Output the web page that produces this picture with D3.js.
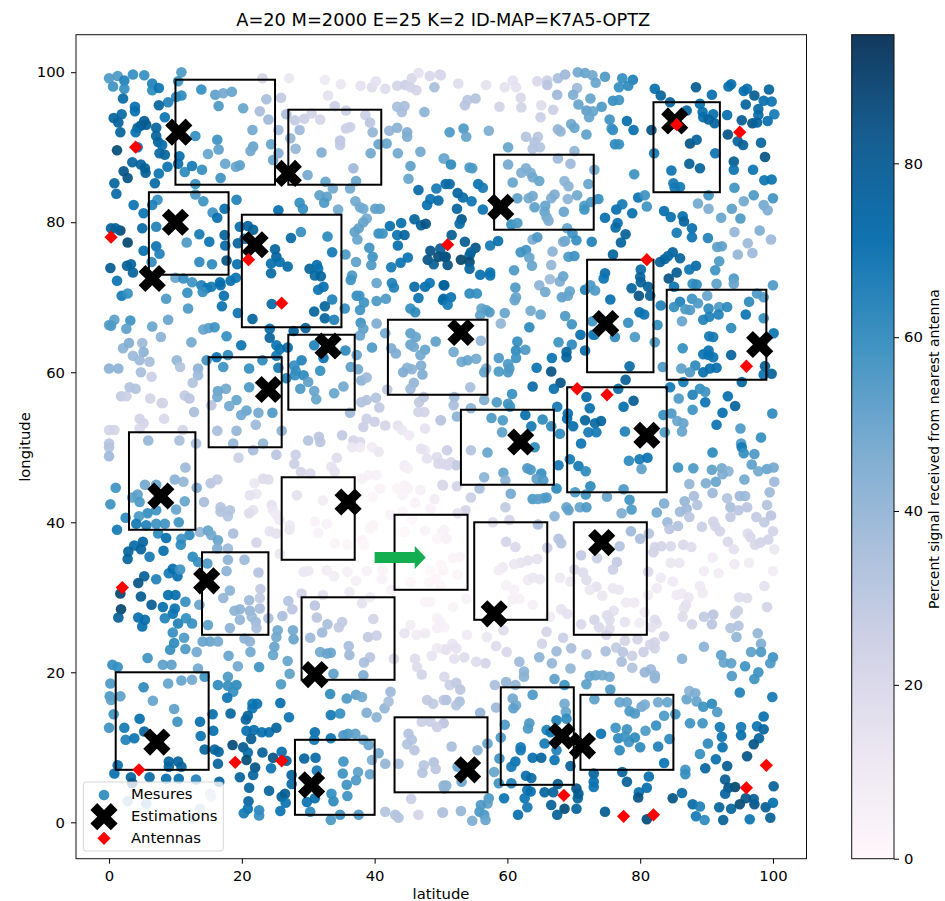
<!DOCTYPE html>
<html><head><meta charset="utf-8">
<script src="https://cdn.jsdelivr.net/npm/d3@7"></script>
<style>html,body{margin:0;padding:0;background:#fff}svg{display:block}text{font-family:"DejaVu Sans",sans-serif;fill:#000}</style>
</head><body><div id="chart"></div>
<script>
const chartTitle="A=20 M=2000 E=25 K=2 ID-MAP=K7A5-OPTZ";
const xTicks=[0,20,40,60,80,100], yTicks=[0,20,40,60,80,100], cbTicks=[0,20,40,60,80];
const signalMax=94.8;
const pubuStops=["#fff7fb","#ece7f2","#d0d1e6","#a6bddb","#74a9cf","#3690c0","#0570b0","#045a8d","#023858"];
const colorbarStops=["#fff7fb","#ece7f2","#d3d3e7","#abc0dc","#7bacd1","#3f93c2","#1073b1","#165e91","#123a5e"];
// measures as [latitude, longitude, signal]
const measuresNW=[[0,99.2,55],[1.3,99.5,55],[2.3,98.9,65],[3.6,99.7,60],[5.3,99.6,60],[6.5,98.5,65],[.6,98.1,58],[2.3,97.8,60],[6.5,97.6,62],[7.5,97.9,70],[2.1,96.5,75],[10.9,100,55],[10.4,98.8,58],[10.9,96.9,62],[10.1,96.7,62],[8.9,96,65],[7.5,95.6,78],[3.9,95.4,72],[3.9,94.8,72],[8.4,94,70],[1.9,94.4,75],[.7,93.9,78],[1.4,93.3,78],[5.3,93.5,82],[4.8,92.9,80],[5.6,93,82],[4.3,92.6,78],[7.1,92.6,78],[1.7,92,78],[4,92,72],[7.1,91.5,78],[7.4,90.7,78],[8,90.3,72],[1.2,89.6,88],[4.3,90,72],[7.6,89.2,75],[8.4,89,78],[10.6,88.8,72],[13,91.5,60],[3.5,88,78],[4.8,87.7,78],[5.4,87.2,80],[5.5,86.6,80],[10.4,87.8,72],[2.2,86.8,85],[2.8,85.9,85],[7.5,86.5,70],[8.8,87.4,70],[11.4,86.7,62],[12.5,87.5,68],[14,87,60],[.8,85.2,78],[6.9,85.2,75],[1.1,83.8,75],[13,85.1,58],
[13.9,97.7,60],[16,97,52],[17.2,97.2,48],[18.5,97.4,50],[16.5,95.5,55],[20.2,95.2,50],[23.7,96.4,35],[22.7,94.8,35],[24,93.7,38],[21.6,92.3,48],[16.3,91,58],[16.5,89.7,52],[14.9,89.1,50],[21.7,90.1,50],[21.3,89.5,48],[24.4,90.4,50],[17.5,87.8,50],[19.1,87.4,50],[19.7,87.6,52],[16.8,85.9,58],[24.7,88.3,50],[23.1,99.2,22],[25.9,96.6,28],[25.5,92.3,38],[25.5,89.2,45],[27.3,91.2,40],[28.1,89.8,40],[27.1,99.2,12],[32.5,99,10],[34.9,98.4,12],[33,96.9,15],[37.9,98.2,15],[39.6,98,18],[40.2,98.8,15],[41.6,97.8,18],[43.4,98.2,22],[44.6,98.3,25],[45.6,99.2,20],[46.6,99.9,15],[46.3,97.6,22],[48.3,99.5,20],[49.8,99.7,20],[49,98,35],[45.4,98,22],
[26.7,94.4,35],[28,93.6,28],[29.4,93.8,25],[30.5,94.5,22],[31.8,93.7,22],[34,95.5,25],[35.7,94.9,25],[38.6,94.3,25],[39.3,93.3,30],[28.7,92.3,38],[39.7,92,40],[34.8,90.9,30],[36.3,92.7,25],[35.7,92.5,25],[34.8,90.3,28],[32,89.3,45],[39.4,89.2,48],[29.9,86.3,48],[36.8,87.2,38],[32.6,85.4,50],[37.2,85.5,50],[40.6,90.4,50],[41.8,90.5,50],[43.5,89.2,48],[46.9,89.4,48],[45.4,87.5,52],[45.1,85.8,50],[50.4,88.5,50],[42.2,92.2,40],[43.4,92.6,42],[44.9,92,45],[44.9,91.4,45],[43.4,95.4,35],[44.5,95.5,35],[44.1,94.7,35],[47.5,94.7,42],
[33.7,84.5,48],[36.3,84.5,48],[31.7,83.6,52],[32.8,83.4,52],[32.4,82.6,55],[28.7,82.6,60],[29.2,81.8,60],[34.5,81.7,48],[37.1,82.8,48],[37.8,82,48],[38.3,81.8,48],[40.1,81.8,52],[40.8,81.8,52],[38.8,80.5,48],[38.3,80,50],[37.6,79.2,52],[37,78.7,52],[37.4,77.7,50],[40.6,78.5,60],[41.2,78.5,58],[25.5,81.6,72],[19.2,83,65],[13,83.7,55],[14.2,82.8,58],[7.3,83,60],[6.5,82.3,65],[3.7,82.3,70],[5.2,81.2,70],[15.6,81.3,58],[16.3,80.6,72],[17.4,81.8,72],[46.6,84.3,75],[49.3,84.5,68],[49.6,82.9,75],[48.4,83.1,70],[47.9,82.3,72],[50.7,85.1,75],
[5,79.2,75],[7.1,79.4,65],[.3,79.2,78],[1.7,78.9,88],[.96,79.2,80],[2.8,77.3,90],[13.6,78.4,68],[15.1,77.4,70],[11.7,77.3,55],[7.1,76.8,70],[5.2,76.2,72],[7.6,75.8,65],[17.4,78.3,78],[17.5,76.9,75],[17.7,74.9,85],[13.6,74.7,62],[15.5,74.4,62],[19.7,79.4,72],[20.9,79.5,78],[21.7,79,80],[19.4,77.2,78],[20.4,77.8,75],[25,76.4,78],[25.2,75.4,78],[27.4,77.9,75],[28.9,78.7,60],[32.9,78.1,62],[33.6,76,68],[35.6,75.7,55],[19.3,74.4,72],[24.4,74.5,72],[25.7,74.7,72],[26.9,74.1,75],[24.4,73.2,75],[30.2,73.8,78],[31.3,74.3,72],[31.5,73.8,70],[31,72.9,75],[31.9,72.8,78],[32.3,71.4,72],[31.5,71,70],[33.6,69.7,65],[32.5,68.8,78],[30.9,68.1,78],[32.5,67.2,78],[33.9,67,65],[35.5,68.5,60],[24.5,69.1,75],[21.6,67.1,78],
[.2,73.9,82],[2.7,74.2,80],[3.3,74.4,78],[3.6,73.3,78],[6.4,74.7,62],[1.2,72.2,70],[1.9,70.2,68],[2.8,70.5,60],[8.6,69.8,55],[10,72.6,50],[11.2,72.5,60],[12.5,72,58],[13.9,71.6,65],[14.7,71.2,68],[14.1,70.7,60],[15.4,71.4,68],[16.7,72,72],[16.8,71.6,72],[18.3,72.2,72],[19.1,72.6,70],[11.8,70.6,60],[17.3,70.2,72],[17,68.8,70],[11.9,68.5,55],[19.4,67.9,70],
[37.3,70.2,60],[37.7,70.2,58],[38.4,69.3,58],[37.8,68.3,58],[40.3,69.5,55],[41.7,69.8,55],[45.4,68.5,60],[46.1,68,62],[46.6,69.9,70],[40.3,71.9,50],[42.6,71.9,65],[42.9,71.3,65],[46,71.4,75],[47.6,71.4,72],[48.3,71.9,70],[50.4,71.6,78],[50.4,69.8,75],[36.6,72.9,55],[36.4,72.3,58],[39.2,76.6,58],[39.7,75.4,58],[39.5,74.3,55],[37.2,74.7,52],[42.5,74,68],[43.9,74.6,70],[45,75.3,70],
[42.3,79.5,72],[44,79.9,72],[46,80.4,78],[47,79.6,80],[47.7,79.8,85],[43.4,78.3,70],[44.5,78.3,78],[43.5,76.9,72],[48.4,76.2,85],[49.9,76.5,82],[48,75,85],[48.9,74.4,80],[49.6,75.4,88],[50.7,75.4,88],
[37.9,66.6,58],[38.3,65.8,52],[37.8,64.9,50],[40.3,66.5,45],[41.6,65.2,48],[39.6,63.3,55],[.8,67,52],[0,66.3,52],[.3,66.2,55],[3.2,66.9,58],[2.6,65.8,52],[6.5,66.1,50],[8.9,67,50],[7.8,64.7,42],[12.4,64,48],[14.2,65.7,50],[15,65.9,52],[15.9,66,58],[17.7,64.8,60],[19.9,63.6,70],[24.2,65.8,75],[24.2,64.6,78],[27.8,65.5,80],[29.6,65.9,80],
[25.2,63.6,70],[25.7,63.1,70],[26.9,63.3,75],[30.9,63.6,65],[35.6,62.9,62],[25.2,62.2,68],[25.5,60.6,68],[29,61.6,65],[27.9,60.9,60],[28.1,60.2,60],[28,59.6,60],[29.3,59.6,62],[26.7,59.2,65],[31.8,60.2,60],[32.3,61.9,70],[37.3,62.3,50],[36.4,60.7,52],[37.5,60.4,48],[28.8,57.8,55],[30,58.7,52],[30.9,57.5,50],[31.2,56.4,50],[33.9,57.2,50],[35.3,58.1,48],[36.3,54.6,38],[38,58.9,42],[38.8,59.3,38],[41.9,57.7,30],[40.2,56.6,32],[38.8,56.3,32],[38,56,32],[40.7,55.3,28],
[2.1,63.2,42],[3,63.9,45],[5,63.9,38],[5.2,62.7,42],[3.6,62.2,38],[4.6,61.6,38],[6.1,61.4,35],[10.2,61.6,40],[10.7,60.7,32],[0,60.5,42],[1.4,60.5,42],[4.8,60,35],[6.4,59.4,25],[14.7,61.6,58],[16.2,62,70],[17.9,62.3,62],[17.2,60.7,58],[21.1,60.5,60],[23.1,61.6,62],[13.4,60.5,42],[13.4,59.6,38],[12.6,58.6,32],[15.4,55.6,30],[17.6,57.8,48],[16.4,57.5,50],[16.3,56.7,48],[19.2,56.3,50],[21.1,58,55],[20.7,54.9,50],[19.9,54.3,48],[18.1,55.5,48],[22.5,54.6,48],[24.6,54.6,55],
[1.8,56.8,28],[2.6,56.8,25],[3.1,58,32],[4,57.8,32],[6.2,56.5,22],[8.1,55.9,22],[7.9,55.9,22],[11.4,56.9,28],[12.1,56.5,30],[12.8,54.7,35],[8.3,53.8,20],[4.6,53.8,22],[5.2,53.2,22],[4.6,52.5,20],[0,52.3,22],[.8,52.3,22],[11.1,52.3,22],[16.3,52.2,35],[19.2,52.2,40],[22.1,53,38],[26,52.2,42],[5.9,50.9,40],[0,50.5,30],[10.6,50.9,35],[13.1,50.5,35],[18.7,50.5,40],[23.2,50.5,40],[30,50.9,32],[31.6,51.4,30],[31.8,50.7,30],[35.1,51.6,28],[38.3,52.7,25],[38.8,53.8,25],[40,53.4,25],[41.6,52.9,22],[43.5,52.9,15],[44.1,52.3,12],[45.2,51.6,10],[47.6,52.5,15],[49.9,53.6,25],[46.6,54.7,22],[47.5,54.7,22],[46.7,56,28],[47.4,56.7,30],[36.8,50.9,22],[37.8,50.7,20],
[45.4,65.2,52],[46.2,64.7,50],[45.4,63.7,50],[45.9,63.4,48],[49.2,64.1,52],[47.6,63,50],[46.9,62.3,48],[42.5,63.2,45],[43.2,62.5,45],[47,60.9,45],[44.9,60.6,42],[45.6,60.4,42],[44.3,60,45],[47.2,59.7,45],[45.9,58.6,40],[45.4,57.8,38]];
const measuresNE=[[50,99.6,20],[52.6,98.5,18],[56.8,98.3,15],[59.6,98,15],[60.8,98.9,15],[61.3,98,15],[64.5,98.8,20],[66,98.9,25],[66,98.3,30],[67.6,99.2,35],[68.7,99.7,38],[70.6,100,48],[71.7,99.9,50],[72.8,99.6,48],[73.3,98.6,50],[74.7,99.4,55],[77.3,99.2,60],[78.9,99,65],[76.8,98,60],[78.2,98.2,62],[70.5,97.9,38],[67.5,97,38],[69.9,97,45],[72.5,96.5,50],[70.7,95.7,50],[74.2,95.4,55],[75.9,96.2,60],[76.8,96.3,58],[71.9,94.9,52],[72.9,94.8,50],[72.3,94,50],
[55.2,96.5,32],[54,96.3,30],[53.6,95.6,30],[62,96.6,20],[58.8,95.4,22],[62.1,95.3,22],[65.1,95.6,18],[66.9,95,25],[65,94,25],[51.3,92,55],[53.4,92.5,55],[53.8,91.4,50],[57.2,92.2,45],[62.8,91.4,32],[64.6,91.4,30],[64.1,90.7,32],[63.8,89.8,32],[64.9,90,32],[67.6,92.4,40],[68,92.1,40],[69.6,93.1,48],[70.1,92.6,50],[71.9,91.7,52],[75.4,93.7,58],[75.7,92.5,58],[75.9,92.3,60],[78,93.5,72],[79,92.3,72],[76.2,90.4,62],[76.8,90.4,60],[60.1,90,50],[70.1,89.5,40],
[82.2,97.8,72],[83.1,96.9,78],[88.4,98,82],[90.8,97,72],[84.5,96,78],[89,95.8,72],[93.7,98.4,72],[93.3,98.1,72],[95.6,97.5,72],[96.1,97.8,72],[97.2,96.9,82],[99.4,97.7,78],[98.6,96.2,72],[99.8,96.1,70],[95.9,95.7,78],[97.8,95.1,75],[97.8,94.3,75],[100.2,94.4,68],[93.1,94.3,72],[95.3,93.6,82],[96.9,93.2,85],[97.6,93.3,78],[99.2,93.5,72],[87,94.9,78],[89.4,94.7,72],[89.5,94,72],[91,94.4,72],[90.3,93.7,78],[91.2,93.2,78],[81.7,92.3,85],[93.2,91.7,85],[87.5,90.5,85],[88.5,91,78],[94.7,90.8,78],[95.5,90.3,80],[98.2,90.6,78],[82.1,89.2,68],[91.3,89.2,70],[98.8,88.7,85],[94.1,88.1,82],[94.1,87,70],[97,87,70],[87.4,87.8,80],[89,87.2,78],[84.7,86.9,70],[98.7,85.6,70],[99.8,85.7,70],[85,85.2,68],[86,84.7,68],[85.2,84.6,68],[94.2,84.6,58],[90.3,83.6,58],[97.1,83.6,55],[95.6,82.8,48],[100,83.2,58],[88.7,82.5,48],[90.3,81.8,45],[93.8,81.8,52],[98.6,82.3,48],[99.2,81.6,45],[92.2,80.6,50],[95.1,80.5,55],[94.2,78.7,40],[98,78.9,45],[99.7,77.7,38],[96.2,77.2,38],[96.9,75.9,38],[94.7,75.7,40],[91.6,76.7,52],[92.3,76.8,52],[91.9,74.8,55],
[50.5,88.5,48],[51.5,87.7,62],[54.3,87.3,55],[54.7,87.2,55],[51.3,85.1,75],[55.6,85.1,70],[56.3,84.6,68],[52.5,83.9,78],[53.3,83.3,75],[54.6,82.8,70],[52.4,81.8,78],[56.3,81.7,70],[53.1,80.4,85],[52.8,79.8,75],[51.6,78.3,82],[53.6,77.4,82],[55.2,76.6,85],[57.4,76.9,68],[58.6,77.5,72],[54.3,75.6,80],[54.5,76,78],[53,75,90],[54.3,74.7,88],[51,74.3,85],[50.5,75.4,85],[54.3,73.8,78],[55.9,73,72],[57.4,73.3,70],[57.4,72.9,70],[50.5,71.6,78],[50.3,69.6,75],[51.5,70,70],[51,69,68],[54.3,70.5,62],[55.4,70.5,60],
[60.1,87.7,48],[62.8,87.2,45],[62.1,86.6,45],[63.5,86.6,45],[63.8,86,48],[64.8,85.5,50],[60.8,85.3,50],[67.6,88.5,38],[69.5,87.8,38],[68.6,85.5,42],[69.2,84.8,42],[73.1,87,48],[72.2,85.1,50],[63.2,83.2,48],[63.8,83.5,48],[67.1,83.7,45],[66.6,83.2,45],[69.1,83.1,42],[70.5,83.6,48],[61.5,83.2,52],[64.1,82,52],[65.7,82.2,50],[65.6,81.4,50],[68.5,81.4,50],[65.9,80.7,48],[66.2,80.2,45],[71.6,82.2,55],[71.6,81.7,58],[72.6,82.7,55],[73.7,83.1,60],[60.6,79.7,60],[61.5,79.9,55],[69,79.2,50],
[74.7,80.6,72],[76.4,81.7,72],[77.3,82.4,68],[78.8,81.2,72],[76.6,79.9,72],[76.3,79.3,75],[77.8,78.4,80],[77.1,77.3,78],[79.7,83.3,70],[80.7,83.6,58],[81,82.1,58],[79.1,86.4,58],[83.6,81.5,72],[84.6,80.7,72],[86.4,80.8,72],[86.6,80.1,78],[87.8,79.2,72],[85.5,78.6,68],[87.8,78,70],[90.2,77.9,65],
[63.8,77.7,45],[64.5,78,55],[68.4,77.4,45],[68.7,77.5,48],[69.8,78.5,58],[70.4,77.6,60],[72.7,77.4,65],[62,76,58],[62.8,76.3,58],[63.3,75.3,50],[66.8,76.1,42],[69.2,75.4,55],[70.1,75.5,58],[63.7,74.2,50],[66.6,74.3,40],[61,73.6,55],[75.9,75.7,78],
[83,74.7,80],[83.7,75.1,78],[84.9,76,78],[86,75.2,78],[84.2,75.5,75],[88.4,74.2,75],[87.4,73.7,70],[85.5,73.3,82],[84.3,72.5,85],[85.1,71.4,70],[91.3,73.6,58],[94.1,72.5,55],[94.1,71.8,50],[91.5,71.8,52],[87.9,71.8,60],[88.5,71.7,62],[100,71.6,55],
[80.1,73.7,75],[80,72.7,78],[80.1,72,80],[74.7,73.2,75],[74.5,72.5,70],[81.2,71.4,80],[78.7,71.2,78],[79.8,70.2,85],[81.5,70.2,80],[75.5,69.7,72],[71.7,71,65],[72.5,71.6,55],[73.2,70.9,55],[79.9,68,72],[80.6,67.7,70],[78.2,66.6,60],[72.8,66.8,58],[76.2,64.7,62],[79.2,64.7,55],[72.9,65,58],[82.6,66.3,60],[82.2,64,55],[78.4,60.8,75],[83.4,60.7,55],[83.1,68.9,65],
[86,69.4,65],[85.1,68.7,60],[86.8,68.4,55],[87.8,69.8,58],[88.7,69.2,55],[87.5,68.3,55],[90.1,70.2,50],[97.6,70.5,55],[98.6,70,55],[96.4,69.4,62],[90.3,68.5,62],[91.9,68.7,55],[93.1,68.7,62],[90.4,67.4,65],[89.5,67,65],[91.8,67.7,65],[95.9,67.7,70],[98.6,67.2,60],[86.3,66.8,50],[93.7,65.9,62],[90.4,64.8,68],[91,64.7,68],[86.4,63.2,60],[100.1,65.2,70],[90.3,62.9,70],[89.5,62.4,70],[90.3,62.3,70],[91,62,70],[93.7,62.3,78],[88.3,60.9,62],[86.2,60.5,52],[87.5,60,55],[89.5,60,72],[90.5,60.5,72],[91.5,60.6,72],[98.8,60.8,80],[98.6,59.7,70],[99.8,59.8,80],[95.3,58.7,78],
[59.6,67.9,50],[63.5,68.2,48],[65,67.7,50],[68.7,67.5,55],[69.7,66.4,58],[63.3,66,62],[59,66.5,40],[56.1,68.5,50],[56.8,68.3,52],[57.3,68,55],[55.9,67.6,52],[61.2,71.3,55],[61.3,70,50],[61.1,69.6,50],[64.8,71.6,42],[65.7,70.7,48],[66.4,72.4,38],[67.9,72.1,45],[68.4,72.8,50],[68.2,70,52],[69.1,70.2,50],[69.4,70.8,50],[71,65,72],[73.1,65,68],[67.7,64,58],[69.7,63.7,62],[71.7,62.9,75],[68.9,62.7,78],[68.9,62,78],[66.7,61.9,70],[66.6,60.1,85],[64.4,60.6,70],[61.5,64.1,60],[61.3,62.9,62],[62.7,63,55],[58.7,61.9,55],[60.1,61.1,55],[61.3,61.9,58],[58.7,60.1,55],[60.1,60,55],[60.3,60.5,55],[56.8,60.5,45],[56.5,60,50],
[56,64.2,40],[51.9,62.7,48],[53.1,61.4,48],[54,61.6,50],[55.3,61.8,48],[54.4,58,35],[52,56.7,38],[51.9,55.6,35],[54.5,55.2,42],[56.5,56.3,45],[58.4,56,55],[60.7,57.1,60],[60.1,55.8,58],[60.4,55.4,58],
[68,58.6,85],[67,57.8,72],[63.8,58.1,75],[67.5,55.4,68],[69.1,54.5,72],[71.7,53.6,78],[69.9,52.8,72],[69,53.8,72],[67.9,51.8,62],[77.8,59,80],[76.7,57.8,75],[71.9,56.7,75],[72.4,55.2,72],[77.5,55.4,72],[79,56.2,82],[73.2,53.2,75],[74.1,53.5,78],[73.4,52,68],[72.2,52,68],[77.7,52.1,65],[71.1,50.5,70],
[86.5,58.7,68],[84.5,58,68],[85.8,56.5,55],[87.9,57,65],[89,57.8,60],[89.8,57.4,58],[89.8,56,70],[87.9,55,58],[93.2,56.8,72],[94.3,55.5,78],[92.4,54.6,72],[91.5,53,70],[95.1,52.5,55],[99.9,54.5,62],[98.2,51.3,60],[95.2,50.5,55],[83.5,54.3,60],[84.7,54.5,55],[85.6,53.5,50],[86.5,53.2,50],[86.3,52.1,50],[83.7,52,55],
[57.6,53.9,55],[59.3,53.6,55],[62.7,54.3,72],[65.3,53.7,62],[66.6,52.8,62],[63.6,52.8,68],[59.2,52,52],[52.4,54.1,42],[50,53.6,30]];
const measuresSW=[[0,50,32],[0,48.8,38],[11.5,47.3,38],[19.5,48.6,25],[21.7,49.6,35],[25.2,49,30],[28.1,49,25],[27.9,47.8,25],[28.9,46.7,22],[30.3,46.5,20],[34.3,48.6,18],[33.5,47.4,15],[34,46.7,15],[36.6,50,12],[37.8,50,10],[39.6,50,8],[40.6,49.4,12],[47.6,49.6,12],[47.9,48.5,15],[49.4,48.7,18],[49.6,47.8,20],[44.6,47.4,5],[50.2,45,20],
[5.4,45,48],[7.1,45,50],[9.9,45.7,42],[11.2,45.4,40],[13.2,44.6,45],[1,44.6,58],[.2,42.4,58],[4.3,43.7,52],[3.5,43.3,52],[4.6,42.7,55],[11.4,42.8,50],[10.1,41.7,50],[14.3,42.7,35],[5.8,41.2,60],[4.5,40.8,55],[7.1,41.6,58],[2.5,40.6,62],[4.1,39.8,68],[5.6,39.6,65],[7.1,39.8,58],[8.4,39.8,58],[10.5,40,58],[1.2,39,68],[7.4,38.5,62],[8.6,37.9,72],[12.1,38.3,62],[10.9,37.8,58],[10.8,37,62],[13.7,38.7,40],[14.9,38.9,50],[15.4,38.3,48],[16.4,37.6,50],[18.7,38.5,35],[16.3,36.5,45],[17.9,36.5,38],[5.1,37.4,78],[3.8,36.9,75],[4.8,36.4,78],[2.9,36.1,78],[2.8,35.1,78],[6.1,35.4,68],[8.2,36.2,72],[12.6,35.4,62],[13.4,34.7,60],[14.8,34.5,55],
[16.8,42,32],[18.2,41.6,32],[16.8,41.4,32],[17.9,40.8,32],[15.3,45.2,30],[16.3,45.7,28],[23.2,45.8,18],[24,45.7,18],[21.9,45.2,12],[22.2,43.8,12],[21.2,43.6,15],[24.5,42.3,15],[24.7,41.6,12],[21.7,41.6,15],[21.1,41.2,18],[25.2,41,10],[25.7,40.3,10],[24.2,38.8,15],[25.2,38.5,15],[22.2,37.3,22],[25.7,35.8,12],[28.3,43.6,15],[32.2,42.9,8],[27.2,39.6,10],[27.2,39,12],[31,40.1,4],[32.8,39.8,4],[31.5,38.6,4],[34,37.2,3],[39.1,46.3,5],[40.3,46.3,5],[38.1,45.8,5],[40.8,44.5,4],[43.4,44.5,3],[46.9,44.3,6],[46.1,42.6,4],[49,43.1,8],[42.4,41,4],[39.8,39.6,3],[39.3,39.2,3],[38.1,37.6,3],
[29.3,33.4,12],[30,33.5,12],[32.8,33.6,8],[33.9,32.8,8],[35.9,33.4,6],[38.8,33.5,5],[37.2,32.2,6],[41.1,32.4,4],[29,30.5,22],[32.2,30.3,15],[36.2,30.7,10],[38.1,29.2,15],[39.3,30,8],[31,28.9,30],[27,29.5,32],[27.6,28.4,30],[26.1,27.5,35],[24,27.2,35],[47.6,29.4,3],[48.4,29.4,3],[45.4,26.3,8],[49.4,27.2,5],[49.9,26.7,6],[44.5,25.2,14],[46.3,25,8],[47.6,25.2,10],[49.4,25.9,6],
[31.3,27.3,30],[32.9,26.4,35],[35.1,26.7,28],[34.6,26,28],[39.8,27.1,22],[32.1,25.3,38],[30.3,24.6,38],[25.4,25.6,48],[25.2,24.7,48],[27.7,25.6,48],[27.8,24.4,50],[24.9,23.4,50],[24.7,22.3,50],[26.9,21.5,50],[27.2,19.8,52],[36.1,23.5,35],[36.2,22.3,38],[39,24.7,28],[40.3,24.9,25],[39.3,22,30],[38.4,21.3,35],[42.9,21.8,20],[31.8,22.7,48],[32.8,22.5,50],[33.4,22.6,50],[38.3,19.6,45],[33.8,19.8,52],[46.1,21.8,18],[46.4,20.7,18],[47.1,19.7,22],[48.6,22.2,14],[49.4,23.2,10],[50.4,23.1,10],
[20.4,35,38],[17.9,35,42],[22.5,33.3,32],[17.7,33.5,42],[18.2,30.9,42],[17.2,29.9,40],[21.1,29.6,38],[22.8,31.1,28],[22.7,29.9,28],[18.9,28.2,42],[19.7,28.4,42],[21.2,28.2,40],[22.7,28.5,35],[19.7,27,40],[21.5,27.4,38],[22.1,26.7,38],[22.2,25.9,35],[14.9,26.3,52],[18.2,25.9,42],[14.1,24.1,50],[15.2,24.1,50],[16.4,24.1,48],[20.4,24.5,42],[21.2,24.1,42],[21.3,22.7,48],[18,22.2,50],[13.2,22.7,48],[19.4,20.8,48],[22.6,20.7,58],[13.4,20.5,48],[14.4,19.4,58],
[5.3,32.8,80],[4.4,31.9,85],[7.1,32.4,65],[9,33.2,68],[9.6,33.8,72],[10.3,32.8,72],[10.7,33.7,58],[1.7,30.5,90],[4.8,30.1,82],[6.4,29,82],[8.9,30.3,72],[10,30.3,72],[11.5,29.4,60],[8.1,28.7,72],[9.9,28.5,70],[9.6,27.8,70],[1.8,28.4,90],[1.4,27.3,80],[4.4,27.3,72],[5.4,27,72],[5,26.1,72],[8.4,27.2,65],[10.4,26.5,65],[11.6,27.2,60],[12.5,26.5,60],[9.6,25.3,60],[11.3,24.6,55],[9.8,23.9,62],[9.2,23,60],[11.5,23.1,55],[5.8,21.9,58],[.5,21,60],[1.3,20.7,60],[8.1,21,52],[9.4,21,52],[13.6,29,50],
[5.2,18,62],[.2,18.5,55],[.1,16.8,55],[.3,16.3,52],[1.7,16.8,52],[8.9,18.5,50],[10.9,18.9,50],[12.5,19,48],[6.6,16.2,50],[9.8,15.1,52],[.7,14.4,58],[10.3,13.4,58],[4.6,13.8,72],[13.7,13.4,72],[0,12.6,58],[2.3,12.6,68],[15.7,12.2,72],[2.5,11,65],[3.8,11.2,70],[5.3,12.1,78],[13.8,11.5,70],[15.6,14.4,72],[18.3,14.5,78],[14.4,9.7,78],[15.9,9.7,78],[16.5,9.4,78],[16.4,7.8,78],[9,8.1,78],[10.4,8.1,78],[9,7.4,78],[10.9,7.4,78],[1.3,7.6,72],[.8,6.5,72],[3.3,6,78],[6.1,6,75],[8.6,5.8,72],[10.5,5.8,72],[13.1,5.7,65],[16.6,5.4,78],[3.5,5.2,85],
[15.2,3.8,35],[15.4,3.4,30],[13.7,1.8,40],[2.8,2.8,45],[5.6,2.5,50],[12.4,.5,45],
[16.4,18.3,62],[17.9,19.4,55],[17.9,18.2,60],[19.2,18.3,62],[18.7,17.4,60],[17.8,16.6,70],[25.9,18.4,55],[21.6,15.8,68],[22.3,15.8,70],[21.6,15.2,70],[25.8,15.9,72],[27.1,14,70],[20.9,14.2,78],[20.6,13.7,78],[33.3,17.1,62],[35.8,16.5,55],[37.2,17,52],[38.1,16.7,48],[33.4,14.3,68],[34.8,14.5,60],[38.8,14.6,45],[40.3,14,42],[41.5,15.2,40],[42.1,16.1,35],[42.4,17.4,38],[47.9,16.3,28],[48.8,15.8,28],[50.4,16.3,28],
[20.7,12.2,72],[21.8,12.3,72],[23,12,72],[24.1,12,72],[25.2,12.6,78],[21.4,11.1,82],[18.6,10.3,88],[20.2,10,82],[20.9,9.3,75],[20.7,8.3,88],[23.1,9.3,80],[24.7,8.6,85],[26,9.4,72],[26.7,8.2,80],[22,7.3,85],[24.4,7.2,70],[21.7,6.3,78],[19.7,6,78],[21.1,4.6,78],[24.1,4.2,78],[27.5,6.3,78],[27.5,5.1,75],[26.5,3.8,82],[26,3.4,80],[26.6,2.6,70],[21,2.8,78],[20.9,1.8,70],[20.3,1.2,68],[22.6,1.6,62],[22.6,.9,60],[25.8,1.5,70],
[31,12,72],[33.4,11.2,70],[30.9,11,68],[35.3,11.6,55],[36,11.8,55],[37.1,11.8,52],[38.3,11,48],[39.1,10.3,50],[40.6,9.2,48],[29.4,8.5,78],[31.1,8.6,75],[35.3,8.1,58],[39.6,8.3,45],[41.6,7.8,40],[43.6,7.8,35],[31.3,6.9,68],[35.2,6.5,58],[37.5,6.7,52],[37.2,5.6,55],[35.8,5,58],[39.3,6.4,50],[35.9,3.5,58],[33.8,2.8,62],[33.5,3.8,60],[29.8,2.7,70],[31,3.2,72],[30.3,1.4,62],[34.8,1,58],[37.6,1,55],[33.4,.3,55],[41.6,1.4,32],[43.1,1,32],[43.6,.6,32],[46.6,1,22],[50.2,1.3,32],[45.5,3.1,25],
[45.1,11.8,32],[45.6,11,32],[44.9,10.4,32],[46,9.6,30],[47.4,7.6,30],[48.9,8,32],[49.2,7.1,30],[47.2,6.6,32],[50.4,4.9,42],[50.4,13.2,30],[47.1,13.4,25],[49.4,12.7,25],[48.4,13.4,25],
[50.2,38.7,3],[47.6,38.9,3],[49.2,32.5,2],[46.9,35.6,2],[45.4,32,2],[48.4,33.6,1],[49.4,37.8,2],[49.9,31.6,2]];
const measuresSE=[[54.5,49.6,32],[57,49.3,50],[64.1,50,62],[67.7,47.6,68],[69.4,48.4,68],[70.7,47.5,68],[71.8,46.8,62],[78.3,48.2,62],[79.9,48.4,68],[81.1,48.6,70],[80.2,47.1,52],[63,47.2,55],[63.5,47,55],[65.1,46.5,60],[64.4,45.8,52],[65.4,45.6,55],[59.4,46.6,50],[56.5,46,42],[59.7,45.6,42],[67.4,44.5,62],[72.5,44.8,62],[70.2,44,55],[71.8,43.7,58],[75,43.4,50],[77.5,44.4,55],[60.5,43.8,48],[55.8,44.5,35],[52.4,44.8,22],[50.3,44.9,20],[54.5,43.3,25],[63.8,43.1,55],[64.6,43.1,52],[65.4,43.2,52],[65.9,43.3,55],[78.4,43,58],[78.7,41.7,55],[77.2,41.2,45],[70.9,42,50],[71.9,42,55],[68.9,42,50],[69.2,41.6,52],[67.1,40.8,42],[59.7,42,28],[53.7,41.6,22],[52.5,41.2,15],
[85.7,47.3,58],[88,47.2,55],[90.8,47,52],[90.9,49.3,62],[95.3,50,68],[95.6,49.2,60],[97.2,49.1,55],[96.8,47.7,52],[97.8,46.8,48],[99.1,47.1,50],[100.1,47.3,48],[92.3,47.2,48],[93.3,46.8,42],[92.4,46.4,45],[95.7,45.7,48],[91.4,45.4,50],[89.9,45.2,45],[100.2,45.4,38],[87.4,45.1,40],[90.9,43.9,38],[93.1,43.2,32],[95,43.5,38],[95.8,43.5,38],[99.5,44,38],[88.1,43.5,35],[86.7,42.8,40],[88.6,42.3,32],[87,41.8,38],[86,41.4,38],[87.4,40.7,30],[83.6,42.5,45],[82.5,41.3,48],[93.6,42,35],[93.6,40.7,28],[94.8,41.6,30],[96.1,42,30],[99.1,42.3,32],[97.5,40.7,28],[99.7,40.9,30],[98.7,40,28],[84.1,40,38],[84.4,39.1,30],[85.7,39.5,32],[89.3,39.4,25],[91,40.1,22],[91.3,39.5,22],[92,38.8,22],[100,38.8,22],[96.2,38.5,18],[96.6,38,20],[93.2,37.4,20],[94.1,36.4,15],[97.3,37,20],[98.1,37.3,22],[99.3,37.7,22],[100.2,36.4,12],
[82.2,36.7,22],[83.2,36.8,22],[84.6,36.8,20],[86.5,37,20],[87.7,36.7,18],[84.6,34.6,12],[85.9,34.6,12],[90.9,35.3,8],[94.2,34.4,10],[96.4,34.6,8],[89.6,33.5,8],[91.8,33.2,8],[100,33.5,8],[83.1,32.6,10],[84.9,32.1,10],[89,31.5,10],[89.4,30.6,10],[98.7,31.5,15],[85.5,30.3,10],[86.3,30.5,10],[87.3,30,12],[86.9,29,15],[86.6,28.5,15],[86.4,27.4,18],[94.9,30,18],[96.1,29.9,18],[99.1,28.7,22],[94.7,28.2,25],[94.3,27.8,25],[89.6,27.4,28],[91,27.7,30],[90.8,26.4,30],[87.8,26.4,22],[93.6,25.9,32],[94.8,26.2,32],[94.5,24.7,40],[97.7,25.2,40],[98.2,23.8,45],[89.6,23.4,42],[86.3,21.8,42],[96.7,22.7,52],[98.2,22.7,55],[92.2,22.3,52],[92.6,21.3,50],[93.7,21.2,52],[100,22,58],[99.6,21.2,55],[95.8,20.8,58],[93.8,19.5,55],[97.8,20,58],[97.2,19.1,58],[95,17.3,65],[99.9,16.7,68],
[78.6,38.8,38],[80,37.8,35],[81.3,38.5,32],[76.9,36.8,32],[71.1,35.6,28],[73.5,35.2,25],[76.5,34.7,28],[75.9,33.7,25],[81.2,33.4,20],[70.1,33.7,20],[71.4,33.3,18],[71.9,32.3,18],[73.4,31.4,15],[72.4,31,12],[75.9,31.2,12],[76.8,31,12],[74.3,30.2,12],[82,36,22],[77.9,29.3,10],[79.1,29.3,10],[79.9,26.6,8],[76,28.2,15],[75,27.6,18],[75.4,27,18],[73.1,27,22],[73.8,26,20],[71.1,26.4,20],[77.7,26.7,15],[75.4,25.8,18],[81.2,30.3,8],[80.7,28,10],[82.5,31.2,10],[82.5,26.5,15],[82.2,27,18],[81.7,26,15],[74.9,25,22],[77.7,24.2,22],[79.6,24.4,22],[83.6,24.8,22],[82.2,23.2,22],[82.2,24,22],[81.5,23.7,22],[80.5,22.7,25],[78.8,22.2,25],[76.4,23.3,28],[77.4,22.7,30],[77.2,21.4,35],[78.8,20.6,32],[74.8,22.8,35],[71.9,22.4,32],[69.6,23.2,35],[67.4,22.8,38],[64.8,22,42],[66.7,21.2,40],[69.5,20.5,40],[81.6,20.4,38],[80.7,20,40],[82.2,19.6,40],[82.2,19.2,40],[68.4,24.6,25],[65.2,23.8,22],[59.9,22.7,20],[58.3,23.5,18],[56.7,21.2,22],[55.3,21.4,18],[65.9,25.4,22],[61.8,21.4,38],[62.5,20.1,42],[62.5,19.4,42],[67.1,19.1,52],[72.4,19.5,50],[73.3,19.6,50],[74.3,19.6,48],[75.4,19.4,48],[71.9,18.4,52],[75.5,17.7,55],[68.6,18.3,58],[58.1,18.3,35],[59.8,18.7,40],[61.2,18.3,40],[73.1,16.4,52],[63.8,17,55],[60.8,16.5,48],[61.3,15.6,48],[60.9,15.2,52],[68.6,15.8,48],[68.8,14.7,50],[58.3,15.3,38],[55.9,14.6,40],
[76.9,16,50],[78,16,50],[80.2,15.4,48],[80.7,15.7,45],[82.7,16,48],[84.1,16,50],[78.4,14.8,55],[79.2,14.5,55],[83.6,14.2,55],[85.3,14.4,58],[87,16.4,50],[87.4,17.5,42],[88.3,17.2,45],[88.5,16.1,50],[89.5,15.4,58],[90.8,15.8,62],[91.6,14.7,55],[76.3,12.6,58],[78,12.4,58],[80.8,12.2,55],[76.7,11.2,62],[77.7,11.4,58],[78.3,10.7,58],[79.2,11.3,62],[80,10,62],[74.1,11.8,70],[82.4,12.9,60],[84.4,11.1,62],[76.9,9.6,62],[82.7,10.1,65],[83.6,7.9,70],[87.5,13.2,58],[89.4,13.2,58],[92,12.7,68],[92.3,11.4,70],[90.2,10.5,62],[92.4,10,72],[89,9.1,60],[91.4,8.4,72],[89.8,7.2,78],[93.1,7.5,82],[86.8,7,58],[86.8,6.4,60],
[95.2,12.7,68],[95.2,11.6,72],[97.6,12.8,70],[98.6,14.1,72],[98.6,12.4,78],[97.9,11.2,78],[97.1,10.4,85],[96.1,8.8,85],
[77.3,6.7,78],[81.3,6.1,72],[78,5.4,80],[81,4.6,72],[79.8,4,72],[79.7,3.3,85],[84.9,3.2,85],[86.3,3.9,75],[87.9,2.4,75],[89,2.1,65],[88.4,.8,68],[89.7,.3,62],[91.9,2,78],[93.7,1.8,78],[92.5,.3,80],[96.5,.4,70],[99.6,.6,80],[98.9,2,82],[100,2.6,72],[97.2,2.4,85],[97.1,3.1,80],[95.9,3.2,85],[95,2.4,88],[92.8,5.7,82],[94.3,4.7,90],[93.3,4.6,85],[92.8,3.8,78],[100.1,4.8,80],[81,.4,88],[74.7,1.4,82],
[62,10,68],[62,9.6,68],[65.6,10.5,68],[63.8,8.6,72],[65.1,8.6,78],[67.1,8.3,70],[67.4,9.6,65],[63.1,12.5,55],[63.3,13.2,55],[59.6,13,55],[59,11.3,55],[65.9,12.3,65],[66.5,12,70],[67.4,13.6,65],[68.9,13.8,62],[58.8,8.5,58],[61.2,8.1,70],[60.6,7.4,68],[69.5,7.5,80],[62.8,6.2,72],[63.6,5.9,75],[58.7,5.2,58],[60.6,5.2,65],[67.6,5.1,82],
[63,4.3,70],[63.5,4.1,72],[62.6,3.2,70],[65.6,4,78],[66.9,4,78],[70.4,4.5,85],[70.7,3.8,82],[70.6,3.2,80],[59.5,3.2,70],[63,2,68],[66.6,2.3,80],[68.6,1.8,88],[70.4,1.8,78],[67.5,1,80],[61.6,1,72],[73,6.5,78],[73,5.4,72],[73,4.7,70],[57.2,3.2,55],[57,2.5,52],[56,2.3,55],[55.8,1.4,55],[56.5,1,55],[56.7,.3,50],[54.7,.2,45],[53,1.5,40],[50.3,1.3,32],
[51.6,10.1,35],[55.5,9.6,42],[57,10.5,50],[58,6.7,50],[52.5,7.4,50],[53.1,5.4,50],[50.8,4.9,42],[50.5,4.5,40],
[57.8,40,18],[60.3,40.3,22],[64.6,39.7,35],[59.8,37.4,22],[61.2,36.7,20],[66,36.6,25],[67.7,37.8,32],[68.1,37.2,32],[64.5,35.1,15],[63.1,34.9,15],[62,34.6,14],[61,34.4,12],[59.3,34,10],[58.7,33.6,8],[63.1,32.3,10],[63.8,32.6,12],[64.9,32.4,12],[67.9,32.6,10],[69.5,32.1,12],[59.8,31.6,6],[61,31,5],[61.8,29.8,5],[60.8,29.7,6],[63.8,29,6],[68.1,28.4,14],[69,27.8,15],[66.4,27.4,10],[53.8,29.8,4],[51.8,28.7,3],[50.5,26,5],[53.9,25,10],[56.9,24.7,12],[59.4,25.6,18],[51.7,23.8,14],[50.8,23,15],[52.3,23.2,15],[53.5,22,18],[52,21.8,15],
[50.5,39,4],[50.8,37.8,5],[50.3,33.6,3],[51.8,35.2,3],[52.8,35.4,3],[50.5,19.4,20],[51.3,18.3,25],[52.3,18.6,28],[52.9,17.7,30],[50.8,16.3,32],[52.8,16.1,35],[52.3,15.6,32]];
const measuresCentre=[[44.5,47.6,8],[45,47.2,6],[44.2,43.6,3],[44.5,44.9,3],[45,44.5,4],[39.7,43.4,2],[48.4,41.8,4],[44.2,41.4,2],[45.7,40.4,2],[44.5,38.7,1],[35.9,37,2],[38.4,37,2],[50,34.3,2],[41.2,33.6,3],[48.2,32,2],[52.5,33,2],[42.5,31,5],[47,49.8,15],[50.9,49.6,25],[51.5,48,20],[52.3,47.6,28],[50.3,47.8,20],[51,47.6,20]];
const boxX0=[10,27,6,20,58,82,72,84,42,27,15,53,69,3,26,43,55,70,14,29,1,28,43,59,71];
const boxX1=[25,41,18,35,73,92,82,99,57,37,26,67,84,13,37,54,66,81,24,43,15,40,57,70,85];
const boxY0=[85,85,73,66,79,84,60,59,57,55,50,45,44,39,35,31,27,25,25,19,7,1,4,5,7];
const boxY1=[99,95,84,81,89,96,75,71,67,65,62,55,58,52,46,41,40,40,36,30,20,11,14,18,17];
const estLat=[10.5,27,10,22,6.5,59,85.2,74.8,98,53,33,24,62,81,36,7.8,74.2,14.7,58,31,7.2,30.5,54,68.2,71.3];
const estLon=[92,86.5,80,77,72.5,82,93.5,66.5,63.7,65.3,63.5,57.7,50.7,51.6,42.7,43.5,37.3,32.2,27.8,19.7,10.7,5,7,11.5,10.2];
const antLat=[4,.3,51,21,26,81,85.5,95,70.5,75,96,2,4.5,19,26,68.5,77.5,82,96,99];
const antLon=[90,78,77,75,69.2,75,93,92,57.8,57,60.8,31.3,7,8,8.2,3.6,.8,1,4.6,7.6];
const arrowLat=[40,47.7], arrowLon=35.3;
const legendLabels=["Mesures","Estimations","Antennas"];

const W=945,H=901,L=76,R=806.5,T=34.7,B=858.7,CL=851.7,CR=894;
const svg=d3.select("#chart").append("svg").attr("width",W).attr("height",H);
const x=d3.scaleLinear().domain([-4.98,105.05]).range([L,R]);
const y=d3.scaleLinear().domain([-4.85,105]).range([B,T]);
const color=d3.scaleLinear().domain(pubuStops.map((c,i)=>i/(pubuStops.length-1)*signalMax)).range(pubuStops);
const OP=0.92;
const measures=[...measuresNW,...measuresNE,...measuresSW,...measuresSE,...measuresCentre];
const R0=5.3;
svg.append("g").selectAll("circle").data(measures).join("circle")
 .attr("cx",d=>x(d[0])).attr("cy",d=>y(d[1])).attr("r",R0).attr("fill",d=>color(d[2])).attr("fill-opacity",OP);
svg.append("g").selectAll("rect").data(boxX0).join("rect")
 .attr("x",(d,i)=>x(boxX0[i])).attr("y",(d,i)=>y(boxY1[i])).attr("width",(d,i)=>x(boxX1[i])-x(boxX0[i])).attr("height",(d,i)=>y(boxY0[i])-y(boxY1[i]))
 .attr("fill","none").attr("stroke","#000").attr("stroke-width",2);
const xm=6.8;
const xPath=d3.line()([[-1,-2],[0,-1],[1,-2],[2,-1],[1,0],[2,1],[1,2],[0,1],[-1,2],[-2,1],[-1,0],[-2,-1]].map(p=>[p[0]*xm,p[1]*xm]))+"Z";
svg.append("g").selectAll("path").data(estLat).join("path")
 .attr("d",xPath).attr("transform",(d,i)=>`translate(${x(estLat[i])},${y(estLon[i])})`).attr("fill","#000");
const dia=d3.symbol().type(d3.symbolSquare).size(88)();
svg.append("g").selectAll("path").data(antLat).join("path")
 .attr("d",dia).attr("transform",(d,i)=>`translate(${x(antLat[i])},${y(antLon[i])}) rotate(45)`).attr("fill","#ff0000");
// arrow
const ax0=x(arrowLat[0]),ax1=x(arrowLat[1]),ay=y(arrowLon);
svg.append("path").attr("d",`M${ax0},${ay-5.5}L${ax1-11},${ay-5.5}L${ax1-11},${ay-11.5}L${ax1},${ay}L${ax1-11},${ay+11.5}L${ax1-11},${ay+5.5}L${ax0},${ay+5.5}Z`).attr("fill","#13ae50");
// axes
const fs=14.8;
const gx=svg.append("g").attr("transform",`translate(0,${B})`).call(d3.axisBottom(x).tickValues(xTicks).tickSize(5).tickPadding(7));
const gy=svg.append("g").attr("transform",`translate(${L},0)`).call(d3.axisLeft(y).tickValues(yTicks).tickSize(5).tickPadding(6));
[gx,gy].forEach(g=>{g.select(".domain").remove();g.selectAll("text").attr("font-size",fs).style("font-family",'"DejaVu Sans"');g.selectAll("line").attr("stroke","#000")});
svg.append("rect").attr("x",L).attr("y",T).attr("width",R-L).attr("height",B-T).attr("fill","none").attr("stroke","#111").attr("stroke-width",1);
svg.append("text").attr("x",(L+R)/2+2).attr("y",26).attr("text-anchor","middle").attr("font-size",17.8).text(chartTitle);
svg.append("text").attr("x",441).attr("y",899).attr("text-anchor","middle").attr("font-size",fs).text("latitude");
svg.append("text").attr("transform",`translate(30,447) rotate(-90)`).attr("text-anchor","middle").attr("font-size",fs).text("longitude");
// legend
const lg=svg.append("g");
lg.append("rect").attr("x",83.3).attr("y",782).attr("width",140).attr("height",69).attr("rx",3).attr("fill","#fff").attr("fill-opacity",.8).attr("stroke","#ccc").attr("stroke-opacity",.8);
const ly=[795,816.7,838.3];
lg.append("circle").attr("cx",104).attr("cy",ly[0]).attr("r",R0).attr("fill",color(58));
lg.append("path").attr("d",xPath).attr("transform",`translate(104,${ly[1]})`).attr("fill","#000");
lg.append("path").attr("d",dia).attr("transform",`translate(104,${ly[2]}) rotate(45)`).attr("fill","#ff0000");
lg.selectAll("text").data(legendLabels).join("text").attr("x",131).attr("y",(d,i)=>ly[i]+4.3).attr("font-size",fs).text(d=>d);
// colorbar
const defs=svg.append("defs");
const gr=defs.append("linearGradient").attr("id","cb").attr("x1",0).attr("x2",0).attr("y1",1).attr("y2",0);
colorbarStops.forEach((c,i)=>gr.append("stop").attr("offset",i/(colorbarStops.length-1)).attr("stop-color",c));
svg.append("rect").attr("x",CL).attr("y",T).attr("width",CR-CL).attr("height",B-T).attr("fill","url(#cb)");
const cy=d3.scaleLinear().domain([0,signalMax]).range([B,T]);
const gc=svg.append("g").attr("transform",`translate(${CR},0)`).call(d3.axisRight(cy).tickValues(cbTicks).tickSize(5).tickPadding(5));
gc.select(".domain").remove();gc.selectAll("text").attr("font-size",fs).style("font-family",'"DejaVu Sans"');gc.selectAll("line").attr("stroke","#000");
svg.append("rect").attr("x",CL).attr("y",T).attr("width",CR-CL).attr("height",B-T).attr("fill","none").attr("stroke","#111");
svg.append("text").attr("transform",`translate(939,449) rotate(-90)`).attr("text-anchor","middle").attr("font-size",14).text("Percent signal received from nearest antenna");
</script></body></html>
